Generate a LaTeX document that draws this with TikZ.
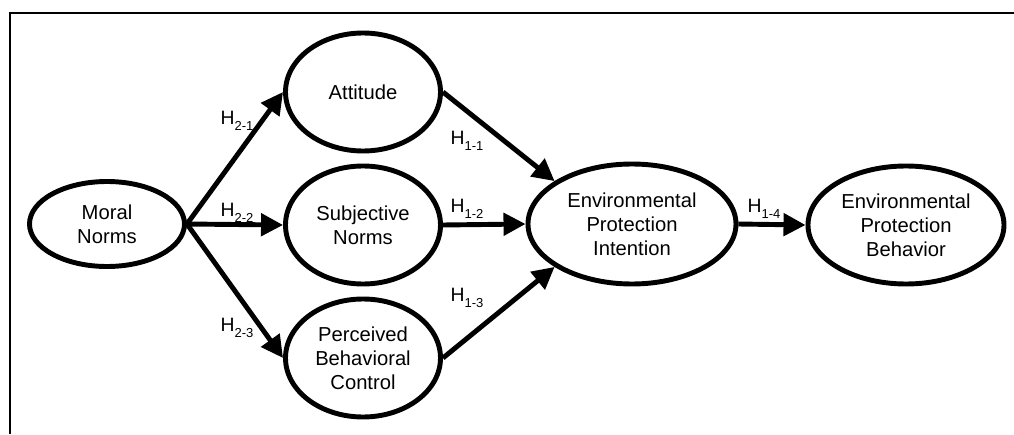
\documentclass[tikz,border=0pt]{standalone}
\usepackage{fontspec}
\setmainfont{Liberation Sans}
\usetikzlibrary{shapes.geometric,arrows.meta}

\newcommand{\hlab}[2]{H\raisebox{-3.6pt}{\fontsize{7.4}{7.4}\selectfont #1-#2}}

\tikzset{
  construct/.style={ellipse,draw,line width=2.8pt,inner sep=0pt,align=center,
    font=\fontsize{11.5}{13.7}\selectfont},
  path/.style={line width=2.8pt,-{Triangle[length=0.44cm,width=0.44cm]}},
  hyp/.style={font=\fontsize{11}{13}\selectfont}
}

\begin{document}
\begin{tikzpicture}
          \useasboundingbox (0,0) rectangle (20.28,8.68);
          %% frame (only top and left edge show)
          \draw[line width=1.1pt] (0.2,0) -- (0.2,8.42) -- (20.28,8.42);
          \node[construct,minimum width=3.1cm,minimum height=1.7cm]  (mn)  at ( 2.14,4.20) {Moral\\Norms};
          \node[construct,minimum width=3.1cm,minimum height=2.36cm] (att) at ( 7.26,6.84) {Attitude};
          \node[construct,minimum width=3.1cm,minimum height=2.36cm] (sn)  at ( 7.26,4.18) {Subjective\\Norms};
          \node[construct,minimum width=3.1cm,minimum height=2.36cm] (pbc) at ( 7.26,1.52) {Perceived\\Behavioral\\Control};
          \node[construct,minimum width=4.16cm,minimum height=2.4cm] (epi) at (12.64,4.20) {Environmental\\Protection\\Intention};
          \node[construct,minimum width=3.92cm,minimum height=2.36cm] (epb) at (18.12,4.18) {Environmental\\Protection\\Behavior};
          %% hypothesis labels
          \node[hyp] (h21) at ( 4.74,6.26) {\hlab{2}{1}};
          \node[hyp] (h22) at ( 4.74,4.42) {\hlab{2}{2}};
          \node[hyp] (h23) at ( 4.74,2.12) {\hlab{2}{3}};
          \node[hyp] (h11) at ( 9.34,5.86) {\hlab{1}{1}};
          \node[hyp] (h12) at ( 9.34,4.50) {\hlab{1}{2}};
          \node[hyp] (h13) at ( 9.34,2.72) {\hlab{1}{3}};
          \node[hyp] (h14) at (15.28,4.50) {\hlab{1}{4}};
          \draw[path] (mn.east) -- (att.west);
          \draw[path] (mn.east) -- (sn.west);
          \draw[path] (mn.east) -- (pbc.west);
          \draw[path] (att.east) -- (epi.151);
          \draw[path] (sn.east) -- (epi.west);
          \draw[path] (pbc.east) -- (epi.209);
          \draw[path] (epi.east) -- (epb.west);
\end{tikzpicture}
\end{document}
